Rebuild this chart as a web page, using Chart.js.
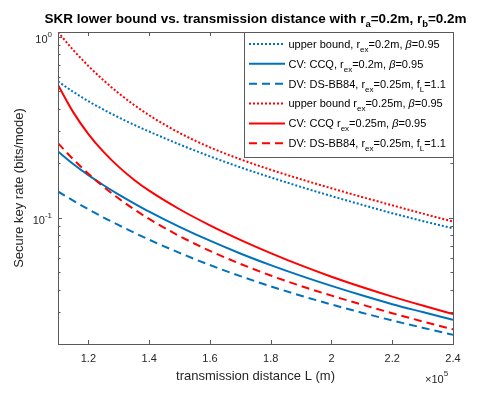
<!DOCTYPE html>
<html><head><meta charset="utf-8">
<script src="https://cdn.jsdelivr.net/npm/chart.js@4/dist/chart.umd.min.js"></script>
<style>html,body{margin:0;padding:0;background:#fff}canvas{display:block}</style>
</head><body>
<canvas id="c" width="480" height="397"></canvas>
<script>
// ---------------- data ----------------
const distance = [110000,115000,120000,125000,130000,135000,140000,150000,160000,170000,180000,190000,200000,210000,220000,230000,240000];
const upperBound02 = [0.5652,0.4953,0.4395,0.3946,0.3573,0.3256,0.2987,0.2535,0.2179,0.1895,0.1667,0.1475,0.1314,0.1177,0.1056,0.09565,0.08717];
const ccq02        = [0.2317,0.1976,0.1714,0.1508,0.1339,0.1199,0.1079,0.08886,0.07446,0.06329,0.05456,0.04756,0.04188,0.03717,0.03320,0.03002,0.02719];
const dsbb84_02    = [0.1393,0.1240,0.1110,0.1000,0.09069,0.08254,0.07542,0.06377,0.05463,0.04744,0.04167,0.03697,0.03307,0.02979,0.02698,0.02459,0.02247];
const upperBound025= [1.060,0.8434,0.6883,0.5732,0.4859,0.4194,0.3674,0.2934,0.2443,0.2098,0.1836,0.1627,0.1451,0.1299,0.1168,0.1052,0.09504];
const ccq025       = [0.5406,0.3824,0.2892,0.2305,0.1905,0.1619,0.1407,0.1111,0.09057,0.07532,0.06361,0.05435,0.04708,0.04130,0.03655,0.03261,0.02927];
const dsbb84_025   = [0.2577,0.2100,0.1747,0.1479,0.1273,0.1111,0.09824,0.07895,0.06541,0.05547,0.04780,0.04182,0.03702,0.03303,0.02960,0.02664,0.02409];

const seriesLabels = [
  'upper bound, r_{ex}=0.2m, β=0.95',
  'CV: CCQ, r_{ex}=0.2m, β=0.95',
  'DV: DS-BB84, r_{ex}=0.25m, f_{L}=1.1',
  'upper bound r_{ex}=0.25m, β=0.95',
  'CV: CCQ r_{ex}=0.25m, β=0.95',
  'DV: DS-BB84, r_{ex}=0.25m, f_{L}=1.1'
];
const seriesValues = [upperBound02, ccq02, dsbb84_02, upperBound025, ccq025, dsbb84_025];

const xTicks = [120000,140000,160000,180000,200000,220000,240000];
const xTickLabels = ['1.2','1.4','1.6','1.8','2','2.2','2.4'];
const yTicks = [1, 0.1];
const yTickLabels = ['10^{0}','10^{-1}'];
const yMinorTicks = [0.9,0.8,0.7,0.6,0.5,0.4,0.3,0.2,0.09,0.08,0.07,0.06,0.05,0.04,0.03];
const titleText = 'SKR lower bound vs. transmission distance with r_{a}=0.2m, r_{b}=0.2m';
const xLabel = 'transmission distance L (m)';
const yLabel = 'Secure key rate (bits/mode)';
const xExponent = '×10^{5}';

// ---------------- styles ----------------
const BLUE = '#0072BD', RED = '#FF0000';
const seriesColors = [BLUE, BLUE, BLUE, RED, RED, RED];
const DOT = [2, 2], DASH = [8, 5], SOLID = [];
const seriesDashes = [DOT, SOLID, DASH, DOT, SOLID, DASH];
const AXIS = '#5a5a5a';
const FONT = '"Liberation Sans", Arial, Helvetica, sans-serif';

function parseRich(s){
  const out=[]; let i=0, buf='';
  const push=(t,m)=>{ let cur=''; for(const ch of t){ if(ch==='β'){ if(cur){out.push({t:cur,m});cur='';} out.push({t:ch,m,it:true}); } else cur+=ch; } if(cur) out.push({t:cur,m}); };
  while(i<s.length){
    const c=s[i];
    if((c==='_'||c==='^') && s[i+1]==='{'){
      if(buf){push(buf,'n');buf='';}
      const j=s.indexOf('}',i+2); push(s.slice(i+2,j), c==='_'?'sub':'sup'); i=j+1;
    } else { buf+=c; i++; }
  }
  if(buf) push(buf,'n');
  return out;
}
function drawRich(ctx, s, x, y, o){
  const segs=parseRich(s);
  const f=(g)=>(g.it?'italic ':'')+(o.bold?'bold ':'')+(g.m==='n'?o.size:o.small)+'px '+FONT;
  let w=0; for(const g of segs){ ctx.font=f(g); g.w=ctx.measureText(g.t).width; w+=g.w; }
  let cx = o.align==='center'? x-w/2 : o.align==='right'? x-w : x;
  ctx.textAlign='left'; ctx.textBaseline='alphabetic';
  for(const g of segs){ ctx.font=f(g); const dy=g.m==='sub'?o.drop:g.m==='sup'?-o.rise:0; ctx.fillText(g.t,cx,y+dy); cx+=g.w; }
  return w;
}

const deco = {
  id:'deco',
  afterDraw(chart){
    const {ctx, chartArea:a, scales:{x, y}} = chart;
    ctx.save();
    ctx.strokeStyle = AXIS; ctx.lineWidth = 1;
    ctx.beginPath();
    for(const v of xTicks){
      const px=Math.round(x.getPixelForValue(v))+0.5;
      ctx.moveTo(px,a.bottom); ctx.lineTo(px,a.bottom-4);
      ctx.moveTo(px,a.top); ctx.lineTo(px,a.top+4);
    }
    for(const v of yTicks){
      const py=Math.round(y.getPixelForValue(v))+0.5;
      ctx.moveTo(a.left,py); ctx.lineTo(a.left+4,py);
      ctx.moveTo(a.right,py); ctx.lineTo(a.right-4,py);
    }
    for(const v of yMinorTicks){
      const py=Math.round(y.getPixelForValue(v))+0.5;
      ctx.moveTo(a.left,py); ctx.lineTo(a.left+2.5,py);
      ctx.moveTo(a.right,py); ctx.lineTo(a.right-2.5,py);
    }
    ctx.stroke();
    ctx.strokeRect(a.left+0.5, a.top+0.5, a.right-a.left, a.bottom-a.top);

    ctx.fillStyle='#262626';
    ctx.font='11px '+FONT; ctx.textAlign='center'; ctx.textBaseline='middle';
    xTicks.forEach((v,i)=>ctx.fillText(xTickLabels[i], x.getPixelForValue(v), 359));
    yTicks.forEach((v,i)=>{
      const py=y.getPixelForValue(v);
      drawRich(ctx, yTickLabels[i], 52, py+6, {size:11, small:8, rise:6, drop:0, align:'right'});
    });
    drawRich(ctx, xExponent, 425, 382.5, {size:11, small:8, rise:6.5, drop:0, align:'left'});
    ctx.font='13px '+FONT; ctx.textAlign='center'; ctx.textBaseline='middle';
    ctx.fillText(xLabel, (a.left+a.right)/2, 376);
    ctx.save(); ctx.translate(19,(a.top+a.bottom)/2); ctx.rotate(-Math.PI/2);
    ctx.fillText(yLabel,0,0); ctx.restore();
    ctx.fillStyle='#000';
    drawRich(ctx, titleText, (a.left+a.right)/2, 22.5, {size:13.5, small:9.5, drop:4.2, rise:5, bold:true, align:'center'});

    // legend
    const lx0=244.5, ly0=a.top+0.5, lw=a.right-244, lh=125;
    ctx.fillStyle='#fff'; ctx.fillRect(lx0,ly0,lw,lh);
    ctx.strokeStyle=AXIS; ctx.lineWidth=1; ctx.strokeRect(lx0,ly0,lw,lh);
    chart.data.datasets.forEach((ds,i)=>{
      const cy = 44 + i*19.85;
      ctx.strokeStyle=ds.borderColor; ctx.lineWidth=2; ctx.setLineDash(ds.borderDash); ctx.lineCap='butt';
      ctx.beginPath(); ctx.moveTo(249,cy); ctx.lineTo(285,cy); ctx.stroke();
      ctx.setLineDash([]);
      ctx.fillStyle='#000';
      drawRich(ctx, ds.label, 288.5, cy+3.8, {size:11, small:8, drop:4, rise:4, align:'left'});
    });
    ctx.restore();
  }
};

new Chart(document.getElementById('c'), {
  type:'line',
  data:{
    datasets: seriesValues.map((vals,i)=>({
      label: seriesLabels[i],
      data: distance.map((d,k)=>({x:d, y:vals[k]})),
      borderColor: seriesColors[i],
      borderWidth: 2,
      borderDash: seriesDashes[i],
      borderCapStyle: 'butt',
      pointRadius: 0,
      cubicInterpolationMode: 'monotone',
      fill: false,
      order: 5 - i
    }))
  },
  options:{
    responsive:false, animation:false, devicePixelRatio:1,
    layout:{padding:{left:58, right:27, top:32, bottom:53}},
    plugins:{legend:{display:false}, title:{display:false}, tooltip:{enabled:false}},
    scales:{
      x:{type:'linear', min:110000, max:240000, display:false},
      y:{type:'logarithmic', min:0.02, max:1.06, display:false}
    }
  },
  plugins:[deco]
});
</script>
</body></html>
